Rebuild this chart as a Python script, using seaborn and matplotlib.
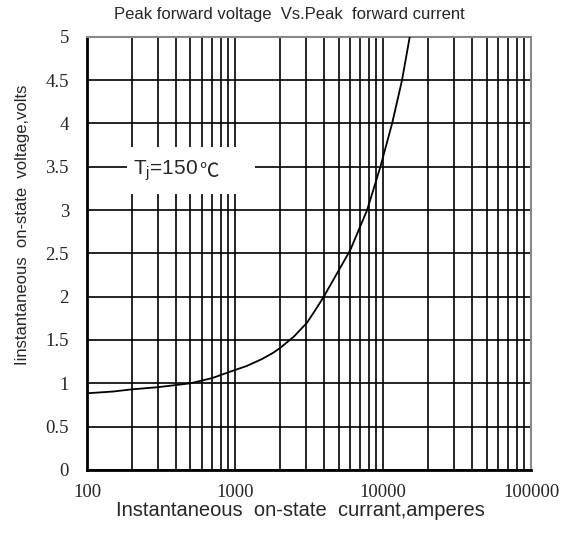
import pandas as pd
import numpy as np
import matplotlib.pyplot as plt
from matplotlib.patches import Rectangle
from matplotlib.ticker import FixedLocator, LogLocator, NullFormatter
import seaborn as sns

# curve (current in A, voltage in V)
current = [100, 150, 201, 300, 400, 499, 700, 929, 1200, 1520, 1800, 2023, 2500,
           3063, 3500, 3975, 4890, 6010, 7800, 9590, 11510, 13430, 15140]
voltage = [0.885, 0.905, 0.93, 0.955, 0.98, 1.0, 1.06, 1.135, 1.2, 1.28, 1.35, 1.41, 1.54,
           1.70, 1.85, 2.0, 2.27, 2.54, 3.0, 3.5, 4.0, 4.5, 5.0]

x_ticks = [100, 1000, 10000, 100000]
y_ticks = [0, 0.5, 1, 1.5, 2, 2.5, 3, 3.5, 4, 4.5, 5]
y_tick_labels = ['0', '0.5', '1', '1.5', '2', '2.5', '3', '3.5', '4', '4.5', '5']

label_box = {'x0': 186, 'x1': 1371, 'y0': 3.19, 'y1': 3.73}


def main():
    sns.set_style('white')
    plt.rcParams['font.family'] = ['Liberation Sans', 'DejaVu Sans']

    df = pd.DataFrame({'Current': current, 'Voltage': voltage})

    fig = plt.figure(figsize=(5.65, 5.34), dpi=100)
    ax = fig.add_axes([0.154, 0.120, 0.786, 0.811])

    sns.lineplot(data=df, x='Current', y='Voltage', color='black', linewidth=1.3,
                 errorbar=None, ax=ax, zorder=3)

    ax.set_xscale('log')
    ax.set_xlim(100, 100000)
    ax.set_ylim(0, 5)

    ax.xaxis.set_major_locator(FixedLocator(x_ticks))
    ax.xaxis.set_minor_locator(LogLocator(base=10, subs=np.arange(2, 10)))
    ax.xaxis.set_minor_formatter(NullFormatter())
    ax.set_xticklabels([str(t) for t in x_ticks])
    ax.set_yticks(y_ticks)
    ax.set_yticklabels(y_tick_labels)

    ax.set_axisbelow(True)
    ax.grid(True, which='both', axis='x', color='black', linewidth=1.2)
    ax.grid(True, which='major', axis='y', color='black', linewidth=1.2)

    ax.tick_params(axis='both', which='both', length=0)
    ax.tick_params(axis='x', pad=10)
    ax.tick_params(axis='y', pad=13)
    for lbl in ax.get_xticklabels() + ax.get_yticklabels():
        lbl.set_fontfamily('Liberation Serif')
        lbl.set_fontsize(13.5)

    for side in ['left', 'bottom']:
        ax.spines[side].set_color('black')
        ax.spines[side].set_linewidth(2)
    for side in ['top', 'right']:
        ax.spines[side].set_color('#888888')
        ax.spines[side].set_linewidth(1.5)

    # white box behind the temperature label
    ax.add_patch(Rectangle((label_box['x0'], label_box['y0']),
                           label_box['x1'] - label_box['x0'],
                           label_box['y1'] - label_box['y0'],
                           facecolor='white', edgecolor='none', zorder=1))
    ax.text(565, 3.46, 'T$_\\mathregular{j}$=150', ha='right', va='center',
            fontsize=15, zorder=4)
    ax.text(572, 3.44, '℃', ha='left', va='center', fontsize=14, zorder=4,
            family=['Noto Sans CJK SC', 'DejaVu Sans'], fontweight='light')

    ax.set_title('Peak forward voltage  Vs.Peak  forward current', fontsize=12,
                 x=0.455, y=1.032, va='center')
    ax.set_xlabel('Instantaneous  on-state  currant,amperes', fontsize=14.5, va='center')
    ax.xaxis.set_label_coords(0.48, -0.094)
    ax.set_ylabel('Iinstantaneous  on-state  voltage,volts', fontsize=12, va='center')
    ax.yaxis.set_label_coords(-0.146, 0.566)

    plt.savefig('out.png', dpi=100)


if __name__ == '__main__':
    main()
